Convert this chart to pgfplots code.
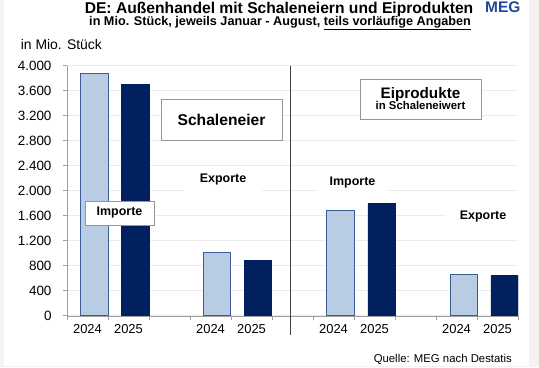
\documentclass[border=0pt]{standalone}
\usepackage{pgfplots}
\pgfplotsset{compat=1.18}
\usepackage{fontspec}
\setmainfont{Liberation Sans}
\definecolor{lightbar}{RGB}{184,204,228}
\definecolor{lightedge}{RGB}{61,90,153}
\definecolor{darkbar}{RGB}{0,32,96}
\definecolor{megblue}{RGB}{31,73,155}
\definecolor{framegray}{RGB}{243,243,243}
\definecolor{boxgray}{RGB}{150,150,150}
\begin{document}
\begin{tikzpicture}[x=1bp,y=1bp]
\useasboundingbox (0,0) rectangle (539,367);
\fill[framegray] (0,0) rectangle (539,367);
\fill[white] (4,1) rectangle (529,367);
\begin{axis}[
  at={(67bp,51.3bp)}, anchor=south west,
  scale only axis, width=451bp, height=250bp,
  xmin=0, xmax=11, ymin=0, ymax=4000,
  ybar, bar width=0.66,
  axis lines=left, axis line style={draw=gray!75, -},
  tick align=outside, major tick length=4bp,
  tick style={draw=gray!75, line width=0.6bp},
  ytick={0,400,...,4000},
  ymajorgrids, grid style={draw=gray!15, line width=0.8bp},
  scaled y ticks=false,
  /pgf/number format/1000 sep={.},
  /pgf/number format/assume math mode=true,
  yticklabel style={font=\fontsize{13.5}{15}\selectfont, xshift=-8bp},
  xtick={0,...,11}, xticklabels={},
  xticklabel style={font=\fontsize{13}{15}\selectfont, yshift=-5bp},
  extra x ticks={0.5,1.5,3.5,4.5,6.5,7.5,9.5,10.5},
  extra x tick labels={2024,2025,2024,2025,2024,2025,2024,2025},
  extra x tick style={major tick length=0pt},
]
\addplot[fill=lightbar, draw=lightedge, line width=0.9bp, bar shift=0pt]
  coordinates {(0.67,3870) (3.65,1010) (6.67,1690) (9.67,660)};
\addplot[fill=darkbar, draw=darkbar, line width=0.9bp, bar shift=0pt]
  coordinates {(1.67,3700) (4.65,890) (7.67,1790) (10.67,645)};
\end{axis}
% divider
\draw[black!75, line width=0.9bp] (290,301.5) -- (290,32);
% boxes
\node[draw=boxgray, fill=white, line width=0.8bp, minimum width=121bp, minimum height=41bp, inner sep=0pt]
  at (221.5,247.5) {\fontsize{15.7}{18}\selectfont\bfseries Schaleneier};
\node[draw=boxgray, fill=white, line width=0.8bp, minimum width=121bp, minimum height=40bp, inner sep=0pt, align=center]
  at (420.5,268) {\fontsize{15.3}{16}\selectfont\bfseries Eiprodukte\\[-1bp]\fontsize{11.4}{13}\selectfont\bfseries in Schaleneiwert};
\node[draw=boxgray, fill=white, line width=0.8bp, minimum width=69bp, minimum height=24bp, inner sep=0pt]
  at (119.5,154) {\fontsize{12.5}{14}\selectfont\bfseries Importe};
\node[fill=white, minimum width=78bp, minimum height=24bp, inner sep=0pt]
  at (223,187) {\fontsize{12.5}{14}\selectfont\bfseries Exporte};
\node[fill=white, minimum width=69bp, minimum height=22bp, inner sep=0pt]
  at (352.5,184) {\fontsize{12.5}{14}\selectfont\bfseries Importe};
\node[fill=white, minimum width=74bp, minimum height=22bp, inner sep=0pt]
  at (483,150.5) {\fontsize{12.5}{14}\selectfont\bfseries Exporte};
% titles
\node[anchor=base, inner sep=0pt] at (279,353.7)
  {\fontsize{15.7}{18}\selectfont\bfseries DE: Außenhandel mit Schaleneiern und Eiprodukten};
\node[anchor=base, inner sep=0pt] at (280,341.7)
  {\fontsize{12.7}{15}\selectfont\bfseries in Mio. Stück, jeweils Januar - August, \underline{teils vorläufige Angaben}};
\node[anchor=base west, inner sep=0pt, text=megblue] at (485,355)
  {\fontsize{15.5}{18}\selectfont\bfseries MEG};
\node[anchor=base west, inner sep=0pt] at (20.6,318)
  {\fontsize{14}{16}\selectfont in Mio. Stück};
\node[anchor=base east, inner sep=0pt] at (512,5)
  {\fontsize{11.4}{13}\selectfont Quelle: MEG nach Destatis};
\end{tikzpicture}
\end{document}
